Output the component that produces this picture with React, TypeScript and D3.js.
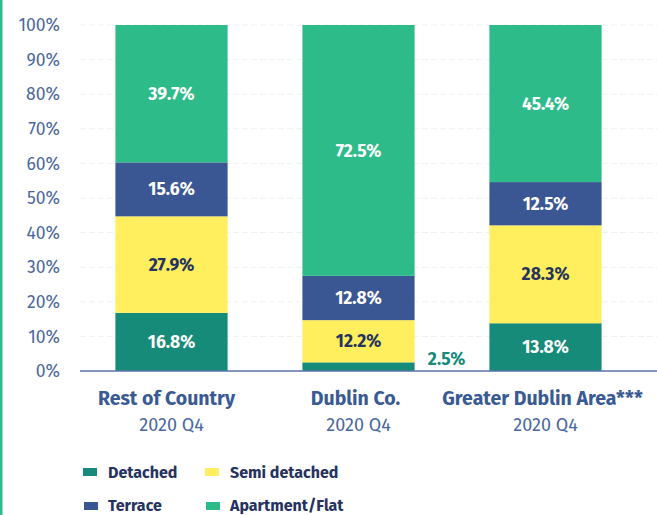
import React from "react";
import * as d3 from "d3";

const categories = ["Rest of Country", "Dublin Co.", "Greater Dublin Area***"];
const subLabels = ["2020 Q4", "2020 Q4", "2020 Q4"];
const seriesNames = ["Detached", "Semi detached", "Terrace", "Apartment/Flat"];
const detached = [16.8, 2.5, 13.8];
const semiDetached = [27.9, 12.2, 28.3];
const terrace = [15.6, 12.8, 12.5];
const apartment = [39.7, 72.5, 45.4];
const yTicks = [0, 10, 20, 30, 40, 50, 60, 70, 80, 90, 100];

const colors = ["#178B79", "#FFEE5E", "#3A5793", "#2EBB8A"];
const labelColors = ["#ffffff", "#26335F", "#ffffff", "#ffffff"];

const W = 657;
const H = 515;
const FONT = "'Fira Sans', 'Open Sans', 'Noto Sans', sans-serif";

export default function App() {
  const series = [detached, semiDetached, terrace, apartment];
  const table = categories.map((c, i) => {
    const row: any = { cat: c };
    seriesNames.forEach((s, j) => (row[s] = series[j][i]));
    return row;
  });
  const stacked = d3.stack<any>().keys(seriesNames)(table);

  const x = d3.scaleBand().domain(categories).range([78, 639]).paddingInner(0.4).paddingOuter(0.2);
  const y = d3.scaleLinear().domain([0, 100]).range([371, 25]);

  return (
    <svg width={W} height={H} style={{ position: "absolute", left: 0, top: 0, background: "#fff" }} fontFamily={FONT}>
      <rect x={0} y={0} width={2.5} height={H} fill="#2EBB8A" />
      {yTicks.map((t) => (
        <g key={t}>
          {t > 0 && (
            <line x1={80} x2={W} y1={y(t)} y2={y(t)} stroke="#f0f0f0" strokeWidth={1} strokeDasharray="6,3" />
          )}
          <text x={60} y={y(t)} dy="0.35em" textAnchor="end" fontSize={17.5} fill="#4A68A0">
            {t}%
          </text>
        </g>
      ))}
      {stacked.map((s, j) => (
        <g key={s.key}>
          {s.map((d, i) => {
            const cat = categories[i];
            const y0 = y(d[0]);
            const y1 = y(d[1]);
            const h = y0 - y1;
            const bx = x(cat)!;
            const bw = x.bandwidth();
            const v = d[1] - d[0];
            const small = h < 20;
            return (
              <g key={cat}>
                <rect x={bx} y={y1} width={bw} height={h} fill={colors[j]} />
                {small ? (
                  <text x={bx + bw + 32} y={y0 - 12} dy="0.35em" textAnchor="middle" fontSize={17.5} fontWeight="bold" fill={colors[0]}>
                    {v.toFixed(1)}%
                  </text>
                ) : (
                  <text x={bx + bw / 2} y={(y0 + y1) / 2} dy="0.35em" textAnchor="middle" fontSize={17.5} fontWeight="bold" fill={labelColors[j]}>
                    {v.toFixed(1)}%
                  </text>
                )}
              </g>
            );
          })}
        </g>
      ))}
      <line x1={80} x2={W} y1={371} y2={371} stroke="#5A74A8" strokeWidth={1.5} />
      {categories.map((c, i) => (
        <g key={c}>
          <text x={x(c)! + x.bandwidth() / 2 - (i === 0 ? 5 : 3)} y={398} dy="0.35em" textAnchor="middle" fontSize={19.5} fontWeight="bold" fill="#3A5A94">
            {c}
          </text>
          <text x={x(c)! + x.bandwidth() / 2} y={425} dy="0.35em" textAnchor="middle" fontSize={18} fill="#4A68A0">
            {subLabels[i]}
          </text>
        </g>
      ))}
      {seriesNames.map((s, j) => {
        const col = j % 2 === 0 ? 0 : 1;
        const row = j < 2 ? 0 : 1;
        const lx = col === 0 ? 83 : 205;
        const ly = row === 0 ? 472 : 505;
        return (
          <g key={s}>
            <rect x={lx + (row === 1 ? 1 : 0)} y={ly - 4 + (row === 1 ? 1 : 0)} width={14} height={8} fill={colors[j]} />
            <text x={lx + 25} y={ly} dy="0.35em" fontSize={16} fontWeight="bold" fill="#26335F">
              {s}
            </text>
          </g>
        );
      })}
    </svg>
  );
}
